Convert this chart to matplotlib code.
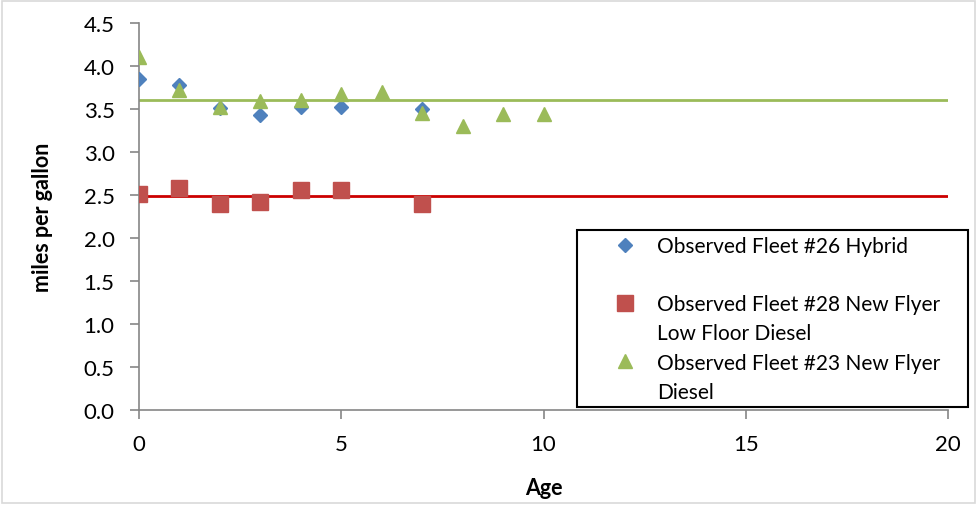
import matplotlib.pyplot as plt
from matplotlib.lines import Line2D
from matplotlib.patches import Rectangle

plt.rcParams['font.family'] = ['Lato', 'DejaVu Sans']

# observed fleets, mpg by age
age_26 = [0, 1, 2, 3, 4, 5, 7]
mpg_26 = [3.85, 3.78, 3.51, 3.43, 3.52, 3.52, 3.50]

age_28 = [0, 1, 2, 3, 4, 5, 7]
mpg_28 = [2.51, 2.58, 2.39, 2.42, 2.56, 2.56, 2.40]

age_23 = [0, 1, 2, 3, 4, 5, 6, 7, 8, 9, 10]
mpg_23 = [4.10, 3.72, 3.52, 3.59, 3.60, 3.68, 3.70, 3.45, 3.30, 3.44, 3.44]

# average lines
line_x = [0, 20]
avg_28 = 2.49
avg_23 = 3.60

blue = '#4F81BD'
red = '#C0504D'
green = '#9BBB59'

fig = plt.figure(figsize=(9.77, 5.06), dpi=100)
ax = fig.add_axes([139/977, 1-411/506, (948-139)/977, (411-24)/506])

ax.plot(line_x, [avg_23, avg_23], color='#9BBB59', lw=2, zorder=2)
ax.plot(line_x, [avg_28, avg_28], color='#CC0000', lw=2, zorder=2)

ax.plot(age_26, mpg_26, 'D', color=blue, ms=7.3, mec=blue, zorder=3)
ax.plot(age_28, mpg_28, 's', color=red, ms=11, mec=red, zorder=3)
ax.plot(age_23, mpg_23, '^', color=green, ms=9.5, mec=green, zorder=4)

ax.set_xlim(0, 20)
ax.set_ylim(0, 4.5)
ax.set_xticks([0, 5, 10, 15, 20])
ax.set_yticks([0, 0.5, 1.0, 1.5, 2.0, 2.5, 3.0, 3.5, 4.0, 4.5])
ax.set_yticklabels(['%.1f' % v for v in ax.get_yticks()])
for s in ['top', 'right']:
    ax.spines[s].set_visible(False)
for s in ['left', 'bottom']:
    ax.spines[s].set_color('#868686')
    ax.spines[s].set_linewidth(1.2)
ax.tick_params(axis='both', direction='out', length=6.5, width=1.2, color='#868686',
               labelsize=16, pad=11)
ax.set_xlabel('Age', fontsize=15.5, fontweight='bold', labelpad=16)
ax.set_ylabel('miles per gallon', fontsize=15.5, fontweight='bold', labelpad=22)

handles = [
    Line2D([], [], marker='D', linestyle='none', color=blue, ms=7.3),
    Line2D([], [], linestyle='none'),
    Line2D([], [], marker='s', linestyle='none', color=red, ms=11),
    Line2D([], [], linestyle='none'),
    Line2D([], [], marker='^', linestyle='none', color=green, ms=9.5),
    Line2D([], [], linestyle='none'),
]
labels = ['Observed Fleet #26 Hybrid', ' ', 'Observed Fleet #28 New Flyer',
          'Low Floor Diesel', 'Observed Fleet #23 New Flyer', 'Diesel']
leg = fig.legend(handles, labels, loc='upper left',
                 bbox_to_anchor=(609/977, 1-237/506), fontsize=15,
                 frameon=False, labelspacing=0.44, handlelength=1.5,
                 handletextpad=0.8, borderpad=0, borderaxespad=0)
leg.set_zorder(10)

# legend box
fig.patches.append(Rectangle((577/977, 1-408/506), (968-577)/977, (408-231)/506,
                             transform=fig.transFigure, facecolor='white',
                             edgecolor='black', lw=1.5, zorder=5))

# chart border
fig.patches.append(Rectangle((2/977, 2/506), 973/977, 502/506, transform=fig.transFigure,
                             fill=False, edgecolor='#D9D9D9', lw=1.2))

fig.savefig('out.png', dpi=100)
